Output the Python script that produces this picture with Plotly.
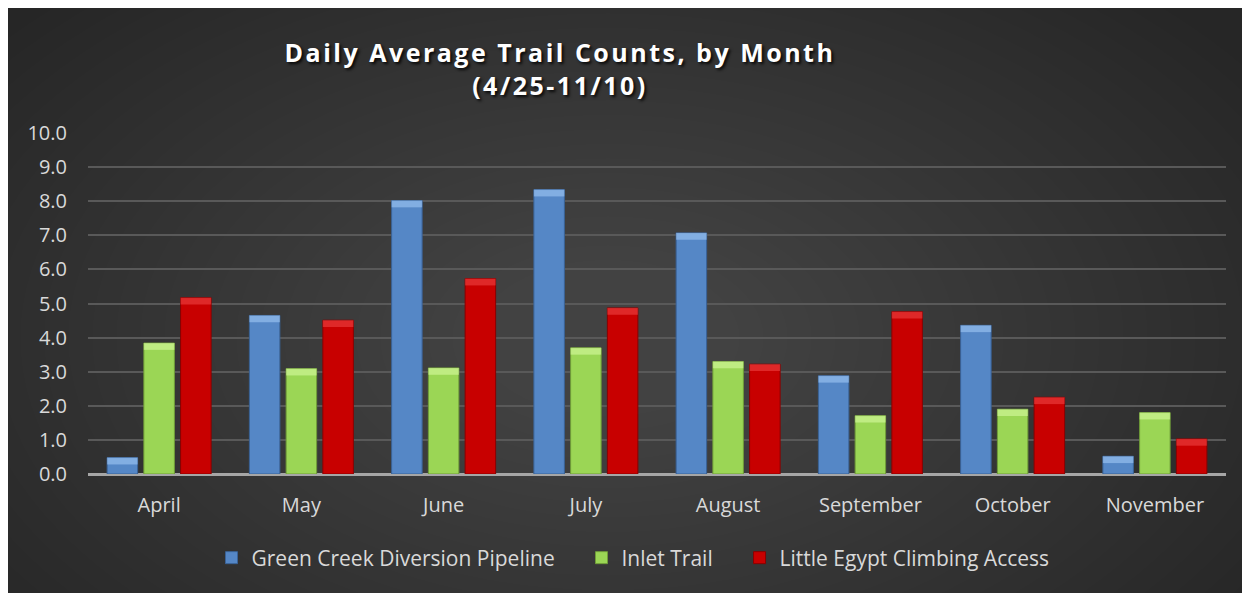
"""Daily average trail counts by month — grouped bar chart on a dark backdrop."""

import plotly.graph_objects as go

# Data
months = ["April", "May", "June", "July", "August", "September", "October", "November"]
green_creek = [0.48, 4.65, 8.02, 8.34, 7.07, 2.88, 4.36, 0.52]
inlet_trail = [3.84, 3.09, 3.11, 3.70, 3.30, 1.71, 1.90, 1.80]
little_egypt = [5.17, 4.51, 5.73, 4.87, 3.22, 4.76, 2.25, 1.03]

series_names = [
    "Green Creek Diversion Pipeline",
    "Inlet Trail",
    "Little Egypt Climbing Access",
]
y_ticks = [0, 1, 2, 3, 4, 5, 6, 7, 8, 9, 10]

# Bar fill / outline / bevel-highlight colours
_FILLS = ["#5587c6", "#9bd655", "#c80000"]
_EDGES = ["#3a6296", "#6f9c38", "#8a0000"]
_HILITE = ["rgba(160,200,245,0.6)", "rgba(215,250,160,0.6)", "rgba(245,80,80,0.5)"]
BEVEL = 0.2  # height of the lighter top band, in data units

# Figure sits inside the page's 8px body margin
W, H = 1242, 585
# Plot area in figure pixels
L, R, T, B = 80, 24, 125, 119
PW, PH = W - L - R, H - T - B

FONT = "Open Sans, Noto Sans, sans-serif"
PAD = "\u00a0" * 4  # extra gap between legend entries


def _px(x):
    """Figure pixel x -> paper x."""
    return (x - L) / PW


def _py(y):
    """Figure pixel y (from top) -> paper y."""
    return (H - B - y) / PH


fig = go.Figure()

all_vals = [green_creek, inlet_trail, little_egypt]
for i, (name, vals) in enumerate(zip(series_names, all_vals)):
    label = name + (PAD if i < len(series_names) - 1 else "")
    fig.add_trace(
        go.Bar(
            x=months,
            y=vals,
            name=label,
            offsetgroup=str(i),
            marker=dict(color=_FILLS[i], line=dict(color=_EDGES[i], width=1)),
            hovertemplate="%{x}: %{y:.1f}<extra>" + name + "</extra>",
        )
    )

# Lighter band at the top of each bar, a rough stand-in for the bevel
for i, vals in enumerate(all_vals):
    band = [min(BEVEL, v) for v in vals]
    fig.add_trace(
        go.Bar(
            x=months,
            y=band,
            base=[v - b for v, b in zip(vals, band)],
            offsetgroup=str(i),
            marker=dict(color=_HILITE[i], line=dict(width=0)),
            showlegend=False,
            hoverinfo="skip",
        )
    )

# Faux radial gradient: many faint stacked ellipses, lighter toward the middle
shapes = []
cx, cy = 600, 330
n_rings = 28
for i in range(n_rings):
    rx = 780 - i * 24
    ry = 470 - i * 14.5
    shapes.append(
        dict(
            type="circle",
            xref="paper",
            yref="paper",
            x0=_px(cx - rx),
            x1=_px(cx + rx),
            y0=_py(cy + ry),
            y1=_py(cy - ry),
            fillcolor="rgba(255,255,255,0.0085)",
            line=dict(width=0),
            layer="below",
        )
    )

title_text = (
    '<span style="letter-spacing:2.5px">Daily Average Trail Counts, by Month'
    '<br>(4/25-11/10)</span>'
)

fig.update_layout(
    width=W,
    height=H,
    margin=dict(l=L, r=R, t=T, b=B),
    paper_bgcolor="#262626",
    plot_bgcolor="rgba(0,0,0,0)",
    barmode="group",
    bargap=0.225,
    bargroupgap=0.17,
    shapes=shapes,
    font=dict(family=FONT, color="#d9d9d9", size=19),
    title=dict(
        text=title_text,
        font=dict(family=FONT, size=25, color="white", weight="bold",
                  shadow="2px 2px 3px rgba(0,0,0,0.85)"),
        x=552 / W,
        xanchor="center",
        xref="container",
        y=1 - 54 / H,
        yanchor="top",
        yref="container",
    ),
    xaxis=dict(
        showgrid=False,
        showline=False,
        ticks="",
        tickfont=dict(size=20, color="#d9d9d9"),
        ticklabelstandoff=17,
    ),
    yaxis=dict(
        range=[0, 10],
        tickvals=y_ticks,
        tickformat=".1f",
        gridcolor="#595959",
        gridwidth=1.5,
        zeroline=True,
        zerolinecolor="#a6a6a6",
        zerolinewidth=3,
        showline=False,
        ticks="",
        tickfont=dict(size=20, color="#d9d9d9"),
        ticklabelstandoff=20,
    ),
    legend=dict(
        orientation="h",
        x=_px(625),
        xanchor="center",
        y=_py(550),
        yanchor="middle",
        font=dict(size=21, color="#d9d9d9"),
        bgcolor="rgba(0,0,0,0)",
        itemwidth=30,
        traceorder="normal",
    ),
    showlegend=True,
)

fig.write_html("out.html")
